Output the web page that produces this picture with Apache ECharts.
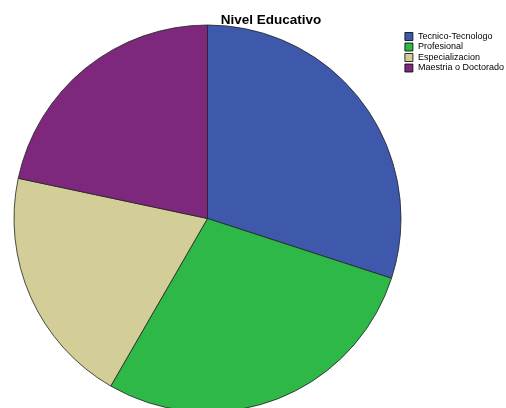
<!DOCTYPE html>
<html><head><meta charset="utf-8">
<script src="https://cdn.jsdelivr.net/npm/echarts@6/dist/echarts.min.js"></script>
<style>html,body{margin:0;padding:0;background:#fff}#c{width:506px;height:408px}</style>
</head><body><div id="c"></div>
<script>
const categories = ['Tecnico-Tecnologo', 'Profesional', 'Especializacion', 'Maestria o Doctorado'];
const counts = [18, 17, 12, 13];
const colors = ['#3E58AC', '#2EB848', '#D3CE97', '#7E287D'];
const titleText = 'Nivel Educativo';

const chart = echarts.init(document.getElementById('c'), null, {renderer: 'canvas'});
chart.setOption({
  animation: false,
  color: colors,
  title: {
    text: titleText, left: 266, top: 8, textAlign: 'center',
    textStyle: {fontFamily: 'Liberation Sans, Arial, sans-serif', fontSize: 13.5, fontWeight: 'bold', color: '#000'}
  },
  legend: {
    orient: 'vertical', left: 399.5, top: 27,
    itemWidth: 8, itemHeight: 8, itemGap: 1.5,
    icon: 'rect',
    selectedMode: false,
    itemStyle: {borderColor: '#000', borderWidth: 0.8},
    textStyle: {fontFamily: 'Liberation Sans, Arial, sans-serif', fontSize: 9, color: '#000', lineHeight: 8},
    data: categories
  },
  series: [{
    type: 'pie',
    center: [207.5, 218.5],
    radius: [0, 193.5],
    startAngle: 90,
    clockwise: true,
    label: {show: false},
    labelLine: {show: false},
    emphasis: {disabled: true},
    itemStyle: {borderColor: '#222', borderWidth: 0.8},
    data: categories.map((n, i) => ({name: n, value: counts[i]}))
  }]
});
</script></body></html>
